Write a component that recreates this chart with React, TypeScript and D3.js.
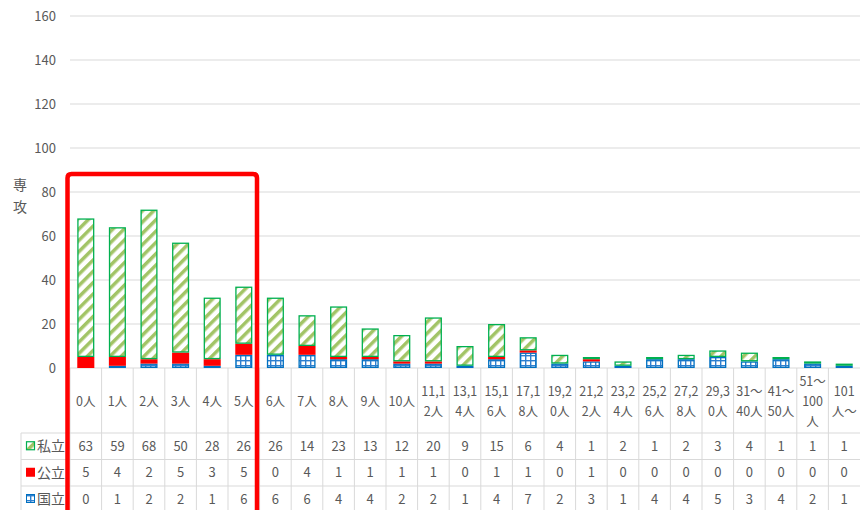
import React from 'react';
import * as d3 from 'd3';

// categories (header labels, line breaks as shown in the table)
const categories = [
  '0人', '1人', '2人', '3人', '4人', '5人', '6人', '7人', '8人', '9人', '10人',
  '11,1\n2人', '13,1\n4人', '15,1\n6人', '17,1\n8人', '19,2\n0人', '21,2\n2人',
  '23,2\n4人', '25,2\n6人', '27,2\n8人', '29,3\n0人', '31～\n40人', '41～\n50人',
  '51～\n100\n人', '101\n人～'
];
const shiritsu = [63, 59, 68, 50, 28, 26, 26, 14, 23, 13, 12, 20, 9, 15, 6, 4, 1, 2, 1, 2, 3, 4, 1, 1, 1];
const kouritsu = [5, 4, 2, 5, 3, 5, 0, 4, 1, 1, 1, 1, 0, 1, 1, 0, 1, 0, 0, 0, 0, 0, 0, 0, 0];
const kokuritsu = [0, 1, 2, 2, 1, 6, 6, 6, 4, 4, 2, 2, 1, 4, 7, 2, 3, 1, 4, 4, 5, 3, 4, 2, 1];
const yTicks = [0, 20, 40, 60, 80, 100, 120, 140, 160];

const seriesNames = ['私立', '公立', '国立'];
const FONT = '"Noto Sans CJK JP", "Noto Sans", sans-serif';
const TXT = '#595959';
const GRID = '#d9d9d9';

const W = 860;
const H = 510;
const plotLeft = 70;
const plotRight = 860;
const plotTop = 16;
const plotBottom = 368;
const tableLeft = 21;
const rowLines = [433, 459.5, 486, 512];

export default function App() {
  const x = d3.scaleBand<string>()
    .domain(categories)
    .range([plotLeft, plotRight])
    .paddingInner(0.46)
    .paddingOuter(0.23);
  const y = d3.scaleLinear().domain([0, 160]).range([plotBottom, plotTop]);

  const rows = categories.map((c, i) => ({
    cat: c,
    kokuritsu: kokuritsu[i],
    kouritsu: kouritsu[i],
    shiritsu: shiritsu[i],
  }));
  const stack = d3.stack<any>().keys(['kokuritsu', 'kouritsu', 'shiritsu'])(rows);
  const fills = ['url(#grid)', '#ff0000', 'url(#hatch)'];
  const strokes = ['#0070c0', 'none', '#00b050'];

  const step = x.step();
  const colEdge = (i: number) => plotLeft + i * step;
  const tableValues = [shiritsu, kouritsu, kokuritsu];

  return (
    <svg width={W} height={H} style={{ position: 'absolute', left: 0, top: 0, background: '#fff' }}
      fontFamily={FONT}>
      <defs>
        <pattern id="hatch" patternUnits="userSpaceOnUse" width="8" height="8"
          patternTransform="rotate(45)">
          <rect width="8" height="8" fill="#fff" />
          <rect width="3.5" height="8" fill="#a2c466" />
        </pattern>
        <pattern id="grid" patternUnits="userSpaceOnUse" width="5" height="5">
          <rect width="5" height="5" fill="#fff" />
          <rect width="1.4" height="5" fill="#2e7fcf" />
          <rect width="5" height="1.4" fill="#2e7fcf" />
        </pattern>
      </defs>

      {/* gridlines */}
      {yTicks.map(t => (
        <g key={t}>
          <line x1={plotLeft} x2={plotRight} y1={y(t)} y2={y(t)} stroke={GRID} strokeWidth={1} />
          <text x={56} y={y(t)} dy="0.35em" textAnchor="end" fontSize={13} fill={TXT}>{t}</text>
        </g>
      ))}

      {/* axis title */}
      <text x={20} y={190} textAnchor="middle" fontSize={14} fill={TXT}>専</text>
      <text x={20} y={212} textAnchor="middle" fontSize={14} fill={TXT}>攻</text>

      {/* bars */}
      {stack.map((s, si) => (
        <g key={si}>
          {s.map((d, i) => {
            const h = y(d[0]) - y(d[1]);
            if (h <= 0) return null;
            const sw = strokes[si] === 'none' ? 0 : 1.3;
            return (
              <rect key={i}
                x={x(categories[i])! + sw / 2}
                y={y(d[1]) + sw / 2}
                width={x.bandwidth() - sw}
                height={Math.max(h - sw, 0.5)}
                fill={fills[si]}
                stroke={strokes[si]}
                strokeWidth={sw} />
            );
          })}
        </g>
      ))}

      {/* data table */}
      <g stroke={GRID} strokeWidth={1}>
        {categories.map((_, i) => (
          <line key={i} x1={colEdge(i)} x2={colEdge(i)} y1={plotBottom} y2={H} />
        ))}
        <line x1={tableLeft} x2={tableLeft} y1={rowLines[0]} y2={H} />
        {rowLines.slice(0, 3).map(r => (
          <line key={r} x1={tableLeft} x2={plotRight} y1={r} y2={r} />
        ))}
      </g>
      {categories.map((c, i) => {
        const lines = c.split('\n');
        const cx = colEdge(i) + step / 2;
        const mid = 402;
        const lh = 20;
        return (
          <text key={c} x={cx} textAnchor="middle" fontSize={12.5} fill={TXT}>
            {lines.map((ln, li) => (
              <tspan key={li} x={cx} y={mid + (li - (lines.length - 1) / 2) * lh} dy="0.35em">{ln}</tspan>
            ))}
          </text>
        );
      })}
      {tableValues.map((vals, ri) => {
        const cy = (rowLines[ri] + rowLines[ri + 1]) / 2;
        return (
          <g key={ri}>
            {vals.map((v, i) => (
              <text key={i} x={colEdge(i) + step / 2} y={cy} dy="0.35em" textAnchor="middle"
                fontSize={13} fill={TXT}>{v}</text>
            ))}
            {ri === 0 && <rect x={26.5} y={cy - 4.5} width={8} height={8} fill="url(#hatch)" stroke="#00b050" strokeWidth={1.2} />}
            {ri === 1 && <rect x={26} y={cy - 5} width={9} height={9} fill="#ff0000" />}
            {ri === 2 && <rect x={26.5} y={cy - 4.5} width={8} height={8} fill="url(#grid)" stroke="#0070c0" strokeWidth={1} />}
            <text x={37} y={cy} dy="0.35em" fontSize={14} fill={TXT}>{seriesNames[ri]}</text>
          </g>
        );
      })}

      {/* highlight box */}
      <path d={`M67.5,${H + 5} V178 Q67.5,174 71.5,174 H253 Q257,174 257,178 V${H + 5}`}
        fill="none" stroke="#ff0000" strokeWidth={4.5} />
    </svg>
  );
}
